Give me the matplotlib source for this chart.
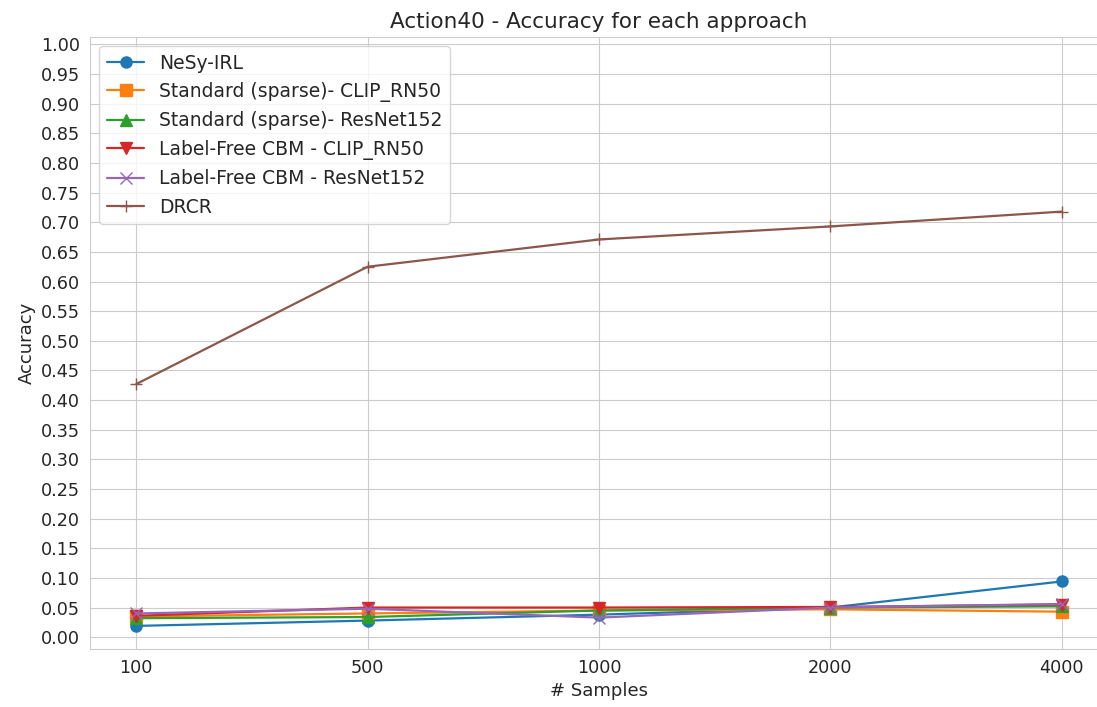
import matplotlib
matplotlib.use("Agg")
import matplotlib.pyplot as plt
import seaborn as sns

sns.set_style("whitegrid")
plt.rcParams['font.family'] = ['DejaVu Sans']

# Training set sizes (plotted as evenly spaced categories)
samples = ['100', '500', '1000', '2000', '4000']

# Accuracy per approach
nesy_irl = [0.019, 0.028, 0.038, 0.050, 0.094]
std_clip = [0.035, 0.040, 0.045, 0.047, 0.043]
std_resnet = [0.032, 0.034, 0.045, 0.050, 0.052]
lf_clip = [0.036, 0.050, 0.050, 0.051, 0.055]
lf_resnet = [0.040, 0.048, 0.033, 0.050, 0.056]
drcr = [0.427, 0.625, 0.671, 0.693, 0.718]

series = [
    (nesy_irl, 'o', 'NeSy-IRL'),
    (std_clip, 's', 'Standard (sparse)- CLIP_RN50'),
    (std_resnet, '^', 'Standard (sparse)- ResNet152'),
    (lf_clip, 'v', 'Label-Free CBM - CLIP_RN50'),
    (lf_resnet, 'x', 'Label-Free CBM - ResNet152'),
    (drcr, '+', 'DRCR'),
]

fig = plt.figure(figsize=(10.97, 7.07), dpi=100)
ax = fig.add_axes([0.082, 0.082, 0.928, 0.866])

x = range(len(samples))
for vals, mk, name in series:
    ax.plot(x, vals, marker=mk, markersize=8, linewidth=1.6, label=name)

ax.set_xticks(list(x))
ax.set_xticklabels(samples)
ax.set_yticks([i * 0.05 for i in range(21)])
ax.set_ylim(-0.02, 1.013)
ax.tick_params(labelsize=12.7)

ax.set_title('Action40 - Accuracy for each approach', fontsize=15.5)
ax.set_xlabel('# Samples', fontsize=13)
ax.set_ylabel('Accuracy', fontsize=13)
ax.legend(loc='upper left', fontsize=13.5)

fig.savefig('out.png', dpi=100)
